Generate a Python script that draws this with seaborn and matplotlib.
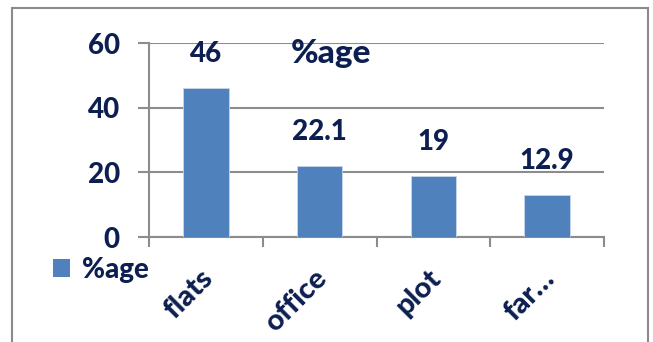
import matplotlib
matplotlib.use("Agg")
import matplotlib.pyplot as plt
import matplotlib.transforms as mtransforms
from matplotlib.patches import Patch, Rectangle
import seaborn as sns
import pandas as pd

categories = ["flats", "office", "plot", "far…"]
values = [46, 22.1, 19, 12.9]
value_labels = ["46", "22.1", "19", "12.9"]
series_name = "%age"
yticks = [0, 20, 40, 60]

sns.set_theme(style="white")
plt.rcParams["font.family"] = ["Lato", "DejaVu Sans"]

BAR = "#4F81BD"
TXT = "#0c1f50"
GRID = "#8c8c8c"
WT = 900

W, H = 653, 342
fig = plt.figure(figsize=(W / 100, H / 100), dpi=100)
fig.patch.set_facecolor("white")

# outer chart frame
fig.add_artist(Rectangle((12.5 / W, 0 - 0.05), (648 - 12.5) / W, (H - 8) / H + 0.05,
                         transform=fig.transFigure, fill=False, edgecolor="#8a8a8a",
                         linewidth=1.5, clip_on=False))

left, right, top, bottom = 149, 604, 43, 237
ax = fig.add_axes([left / W, 1 - bottom / H, (right - left) / W, (bottom - top) / H])

df = pd.DataFrame({"cat": categories, "val": values})
sns.barplot(data=df, x="cat", y="val", color=BAR, saturation=1, width=0.4, ax=ax,
            edgecolor="#c9d6ea", linewidth=0.6, zorder=3)

ax.set_ylim(0, 60)
ax.set_xlim(-0.5, len(categories) - 0.5)
ax.set_yticks(yticks)
ax.set_yticklabels([str(t) for t in yticks], fontsize=20, fontweight=WT, color=TXT)
ax.yaxis.grid(True, color=GRID, linewidth=1.5, zorder=0)
ax.set_axisbelow(True)
ax.set_xlabel("")
ax.set_ylabel("")

for s in ["top", "right"]:
    ax.spines[s].set_visible(False)
for s in ["left", "bottom"]:
    ax.spines[s].set_color(GRID)
    ax.spines[s].set_linewidth(1.5)

ax.tick_params(axis="y", length=8, width=1.5, color=GRID, pad=13, left=True)
# category boundary ticks
ax.set_xticks([i - 0.5 for i in range(len(categories) + 1)], minor=True)
ax.tick_params(axis="x", which="minor", length=7.5, width=1.5, color=GRID, bottom=True)
ax.set_xticks(range(len(categories)))
ax.set_xticklabels(categories, rotation=45, ha="right", va="center",
                   rotation_mode="anchor", fontsize=21, fontweight=WT, color=TXT)
ax.tick_params(axis="x", which="major", length=0, pad=27)
offset = mtransforms.ScaledTranslation(2.5 / 72, 0, fig.dpi_scale_trans)
for lbl in ax.get_xticklabels():
    lbl.set_transform(lbl.get_transform() + offset)

# data labels
for cont in ax.containers:
    ax.bar_label(cont, labels=value_labels, padding=15, fontsize=20,
                 fontweight=WT, color=TXT)

# chart title overlaid in plot area
fig.text(331 / W, 1 - 53 / H, series_name, ha="center", va="center",
         fontsize=24, fontweight=WT, color=TXT)

# legend
handle = Patch(facecolor=BAR, edgecolor="none")
fig.legend([handle], [series_name], loc="center left",
           bbox_to_anchor=(52.5 / W, 1 - 270 / H), frameon=False,
           prop={"weight": WT, "size": 20}, labelcolor=TXT,
           handlelength=0.62, handleheight=0.62, handletextpad=0.45,
           borderpad=0, borderaxespad=0)

fig.savefig("out.png", dpi=100)
